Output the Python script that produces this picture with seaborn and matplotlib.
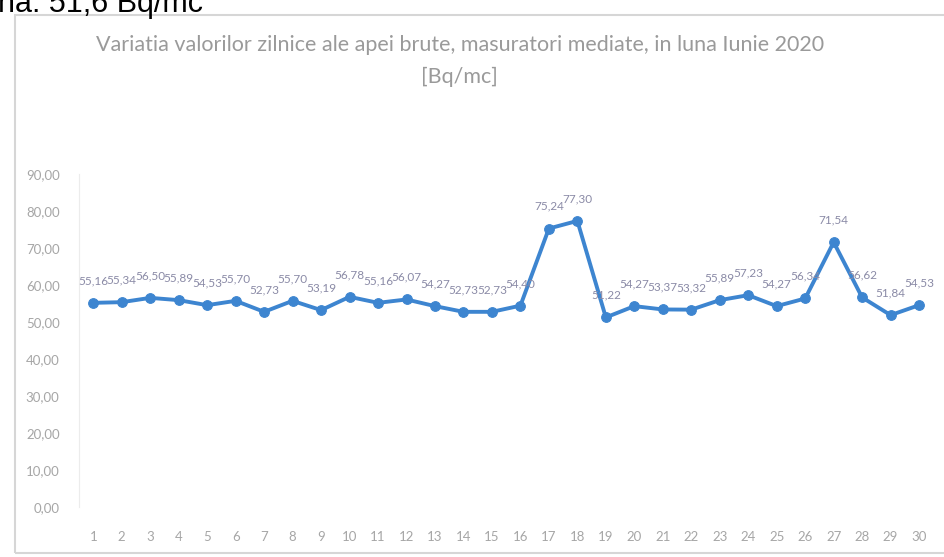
import numpy as np
import pandas as pd
import seaborn as sns
from matplotlib import pyplot as plt
from matplotlib.patches import Rectangle

# zile din luna iunie si valorile medii
zile = list(range(1, 31))
valori = [55.16, 55.34, 56.50, 55.89, 54.53, 55.70, 52.73, 55.70, 53.19, 56.78,
          55.16, 56.07, 54.27, 52.73, 52.73, 54.40, 75.24, 77.30, 51.22, 54.27,
          53.37, 53.32, 55.89, 57.23, 54.27, 56.34, 71.54, 56.62, 51.84, 54.53]
y_ticks = [0, 10, 20, 30, 40, 50, 60, 70, 80, 90]

titlu = "Variatia valorilor zilnice ale apei brute, masuratori mediate, in luna Iunie 2020\n[Bq/mc]"

data = pd.DataFrame({"zi": zile, "valoare": valori})

sns.set_style("white")
plt.rcParams['font.family'] = ['Lato', 'DejaVu Sans']

fig = plt.figure(figsize=(9.44, 5.57), dpi=100)
ax = fig.add_axes([0.0837, 0.0898, 0.905, 0.598])

sns.lineplot(data=data, x="zi", y="valoare", ax=ax, color="#3d85d0", linewidth=2.8,
             marker="o", markersize=7, markeredgecolor="#3d85d0")

# etichete de date deasupra punctelor
for z, v in zip(zile, valori):
    ax.annotate(f"{v:.2f}".replace(".", ","), (z, v), xytext=(0, 12), textcoords="offset points",
                ha="center", va="bottom", fontsize=8.5, color="#8a8aa6")

ax.set_xlim(0.5, 30.5)
ax.set_ylim(0, 90)
ax.set_xticks(zile)
ax.set_xticklabels([str(z) for z in zile])
ax.set_yticks(y_ticks)
ax.set_yticklabels([f"{t:.2f}".replace(".", ",") for t in y_ticks])
ax.tick_params(axis="both", colors="#a6a6a6", labelsize=9.5, length=0)
ax.tick_params(axis="y", pad=14)
ax.tick_params(axis="x", pad=17)
ax.set_xlabel("")
ax.set_ylabel("")
for s in ["top", "right", "bottom"]:
    ax.spines[s].set_visible(False)
ax.spines["left"].set_color("#ececec")

fig.text(0.487, 0.937, titlu, ha="center", va="top", fontsize=15.5, color="#9a9a9a",
         linespacing=1.7)

# chenarul graficului
fig.patches.append(Rectangle((15 / 944, 4 / 557), 1.0, 1 - 19 / 557, transform=fig.transFigure,
                             fill=False, edgecolor="#d6d6d6", linewidth=1.5))

# text din document, taiat sus
fig.text(-0.002, 1 - 12 / 557, "na: 51,6 Bq/mc", ha="left", va="baseline", fontsize=22,
         color="black", family=["Liberation Sans", "DejaVu Sans"])

fig.savefig("out.png", dpi=100)
